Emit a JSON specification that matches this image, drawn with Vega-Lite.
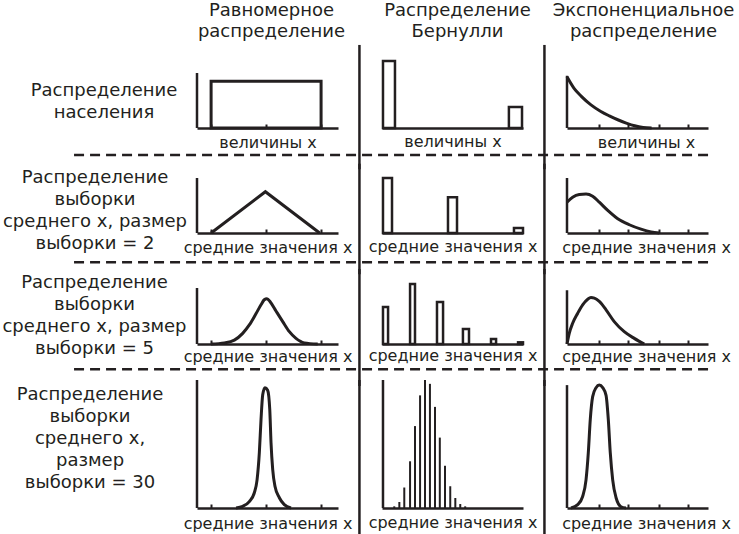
{
  "$schema": "https://vega.github.io/schema/vega-lite/v6.json",
  "background": "white",
  "padding": {"left": 1, "top": 1, "right": 0, "bottom": 0},
  "columns": 3,
  "align": "each",
  "spacing": {"row": 36, "column": 44},
  "bounds": "flush",
  "config": {
    "view": {"stroke": null},
    "font": "DejaVu Sans",
    "axis": {"grid": false, "labels": false, "domainColor": "#231f20", "domainWidth": 2.5, "tickColor": "#231f20", "tickWidth": 2, "titleFont": "DejaVu Sans", "titleFontSize": 16, "titleFontWeight": "normal", "titleColor": "#231f20", "titleBaseline": "alphabetic"},
    "title": {"font": "DejaVu Sans", "fontSize": 18, "fontWeight": "normal", "color": "#231f20", "lineHeight": 21, "offset": 31}
  },
  "datasets": {
    "uniform": [{"x0": 1.0, "x1": 8.8, "p": 0.85}],
    "triangle": [{"x": 1.0, "p": 0}, {"x": 4.85, "p": 0.75}, {"x": 8.7, "p": 0}],
    "bell5": [{"x": 0.99, "p": 0}, {"x": 1.94, "p": 0.02}, {"x": 2.65, "p": 0.07}, {"x": 3.24, "p": 0.19}, {"x": 3.71, "p": 0.34}, {"x": 4.18, "p": 0.54}, {"x": 4.54, "p": 0.7}, {"x": 4.77, "p": 0.79}, {"x": 4.96, "p": 0.81}, {"x": 5.2, "p": 0.75}, {"x": 5.6, "p": 0.59}, {"x": 6.08, "p": 0.4}, {"x": 6.55, "p": 0.22}, {"x": 7.02, "p": 0.1}, {"x": 7.61, "p": 0.02}, {"x": 8.56, "p": 0}],
    "bell30": [{"x": 2.77, "p": 0}, {"x": 3.24, "p": 0.013}, {"x": 3.71, "p": 0.05}, {"x": 4.06, "p": 0.117}, {"x": 4.26, "p": 0.22}, {"x": 4.42, "p": 0.43}, {"x": 4.54, "p": 0.69}, {"x": 4.66, "p": 0.885}, {"x": 4.82, "p": 0.94}, {"x": 5.01, "p": 0.92}, {"x": 5.16, "p": 0.77}, {"x": 5.25, "p": 0.51}, {"x": 5.37, "p": 0.3}, {"x": 5.53, "p": 0.17}, {"x": 5.84, "p": 0.08}, {"x": 6.19, "p": 0.026}, {"x": 6.67, "p": 0}],
    "bern1": [{"x0": 0.07, "x1": 0.92, "p": 1.22}, {"x0": 9.0, "x1": 9.93, "p": 0.38}],
    "bern2": [{"x0": 0.07, "x1": 0.71, "p": 1.0}, {"x0": 4.68, "x1": 5.32, "p": 0.65}, {"x0": 9.36, "x1": 10.0, "p": 0.09}],
    "bern5": [{"x0": 0.07, "x1": 0.43, "p": 0.66}, {"x0": 1.99, "x1": 2.34, "p": 1.07}, {"x0": 3.9, "x1": 4.33, "p": 0.75}, {"x0": 5.74, "x1": 6.17, "p": 0.27}, {"x0": 7.73, "x1": 8.09, "p": 0.09}, {"x0": 9.65, "x1": 10.0, "p": 0.03}],
    "bern30": [{"x": 0.87, "p": 0.013}, {"x": 1.23, "p": 0.047}, {"x": 1.58, "p": 0.16}, {"x": 1.99, "p": 0.365}, {"x": 2.34, "p": 0.64}, {"x": 2.7, "p": 0.88}, {"x": 3.05, "p": 1.0}, {"x": 3.4, "p": 0.97}, {"x": 3.76, "p": 0.79}, {"x": 4.1, "p": 0.55}, {"x": 4.47, "p": 0.33}, {"x": 4.84, "p": 0.17}, {"x": 5.2, "p": 0.078}, {"x": 5.55, "p": 0.031}, {"x": 5.9, "p": 0.013}],
    "exp1": [{"x": 0, "p": 0.93}, {"x": 0.5, "p": 0.72}, {"x": 1.0, "p": 0.58}, {"x": 1.7, "p": 0.42}, {"x": 2.4, "p": 0.3}, {"x": 3.0, "p": 0.22}, {"x": 3.6, "p": 0.15}, {"x": 4.2, "p": 0.09}, {"x": 4.8, "p": 0.04}, {"x": 5.4, "p": 0.01}, {"x": 6.0, "p": 0}],
    "exp2": [{"x": 0, "p": 0.56}, {"x": 0.4, "p": 0.65}, {"x": 0.87, "p": 0.7}, {"x": 1.35, "p": 0.71}, {"x": 1.82, "p": 0.67}, {"x": 2.29, "p": 0.56}, {"x": 2.89, "p": 0.41}, {"x": 3.6, "p": 0.26}, {"x": 4.42, "p": 0.15}, {"x": 5.25, "p": 0.07}, {"x": 5.96, "p": 0.02}, {"x": 6.55, "p": 0}],
    "exp5": [{"x": 0, "p": 0}, {"x": 0.16, "p": 0.19}, {"x": 0.4, "p": 0.37}, {"x": 0.76, "p": 0.55}, {"x": 1.11, "p": 0.7}, {"x": 1.47, "p": 0.8}, {"x": 1.7, "p": 0.83}, {"x": 1.94, "p": 0.82}, {"x": 2.29, "p": 0.76}, {"x": 2.77, "p": 0.61}, {"x": 3.35, "p": 0.4}, {"x": 4.06, "p": 0.22}, {"x": 4.77, "p": 0.1}, {"x": 5.48, "p": 0}],
    "exp30": [{"x": 0.28, "p": 0}, {"x": 0.76, "p": 0.026}, {"x": 1.11, "p": 0.09}, {"x": 1.35, "p": 0.22}, {"x": 1.51, "p": 0.43}, {"x": 1.65, "p": 0.69}, {"x": 1.82, "p": 0.87}, {"x": 2.06, "p": 0.94}, {"x": 2.29, "p": 0.96}, {"x": 2.53, "p": 0.94}, {"x": 2.77, "p": 0.88}, {"x": 2.93, "p": 0.69}, {"x": 3.07, "p": 0.43}, {"x": 3.24, "p": 0.22}, {"x": 3.48, "p": 0.08}, {"x": 3.83, "p": 0.01}, {"x": 4.18, "p": 0}]
  },
  "concat": [
    {
      "width": 141, "height": 55,
      "title": {"text": ["Равномерное", "распределение"], "dx": 4, "offset": 31},
      "layer": [
        {"data": {"name": "uniform"}, "mark": {"type": "rect", "fill": "transparent", "stroke": "#231f20", "strokeWidth": 3},
         "encoding": {
           "x": {"field": "x0", "type": "quantitative", "scale": {"domain": [0, 10], "nice": false, "zero": false}, "axis": {"values": [1, 2.9, 4.9, 6.9, 8.8], "tickSize": -4, "title": "величины x", "titlePadding": 18}},
           "x2": {"field": "x1"},
           "y": {"field": "p", "type": "quantitative", "scale": {"domain": [0, 1], "nice": false, "zero": false}, "axis": {"domain": false, "ticks": false, "title": ["Распределение", "населения"], "titleAngle": 0, "titleAlign": "center", "titleBaseline": "middle", "titleX": -93.5, "titleY": 17, "titleFontSize": 18, "titleLineHeight": 22}},
           "y2": {"datum": 0}}},
        {"data": {"values": [{}]}, "mark": {"type": "rule", "stroke": "#231f20", "strokeWidth": 2.5, "strokeDash": [10, 6]},
         "encoding": {"x": {"datum": -8.72, "scale": {"domain": [0, 10], "nice": false, "zero": false}}, "x2": {"datum": 36.3}, "y": {"datum": -0.49, "scale": {"domain": [0, 1], "nice": false, "zero": false}}}},
        {"data": {"values": [{}]}, "mark": {"type": "rule", "stroke": "#231f20", "strokeWidth": 2.5},
         "encoding": {"x": {"datum": 0, "scale": {"domain": [0, 10], "nice": false, "zero": false}}, "y": {"datum": 0, "scale": {"domain": [0, 1], "nice": false, "zero": false}}, "y2": {"datum": 1}}}
      ]
    },
    {
      "width": 141, "height": 55,
      "title": {"text": ["Распределение", "Бернулли"], "dx": 5, "offset": 3},
      "layer": [
        {"data": {"name": "bern1"}, "mark": {"type": "rect", "fill": "white", "stroke": "#231f20", "strokeWidth": 2.5},
         "encoding": {
           "x": {"field": "x0", "type": "quantitative", "scale": {"domain": [0, 10], "nice": false, "zero": false}, "axis": {"ticks": false, "title": "величины x", "titlePadding": 18}},
           "x2": {"field": "x1"},
           "y": {"field": "p", "type": "quantitative", "scale": {"domain": [0, 1], "nice": false, "zero": false}, "axis": null},
           "y2": {"datum": 0}}},
        {"data": {"values": [{}]}, "mark": {"type": "rule", "stroke": "#231f20", "strokeWidth": 2.5},
         "encoding": {"x": {"datum": -1.6, "scale": {"domain": [0, 10], "nice": false, "zero": false}}, "y": {"datum": 1.51, "scale": {"domain": [0, 1], "nice": false, "zero": false}}, "y2": {"datum": -0.75}}}
      ]
    },
    {
      "width": 141, "height": 55,
      "title": {"text": ["Экспоненциальное", "распределение"], "dx": 6, "offset": 3},
      "layer": [
        {"data": {"name": "exp1"}, "mark": {"type": "line", "interpolate": "monotone", "stroke": "#231f20", "strokeWidth": 3},
         "encoding": {
           "x": {"field": "x", "type": "quantitative", "scale": {"domain": [0, 10], "nice": false, "zero": false}, "axis": {"values": [2.3, 4.3, 6.5, 8.6], "tickSize": -4, "title": "величины x", "titlePadding": 18, "titleX": 79}},
           "y": {"field": "p", "type": "quantitative", "scale": {"domain": [0, 1], "nice": false, "zero": false}, "axis": null}}},
        {"data": {"values": [{}]}, "mark": {"type": "rule", "stroke": "#231f20", "strokeWidth": 2.5},
         "encoding": {"x": {"datum": -1.6, "scale": {"domain": [0, 10], "nice": false, "zero": false}}, "y": {"datum": 1.51, "scale": {"domain": [0, 1], "nice": false, "zero": false}}, "y2": {"datum": -0.75}}},
        {"data": {"values": [{}]}, "mark": {"type": "rule", "stroke": "#231f20", "strokeWidth": 2.5},
         "encoding": {"x": {"datum": 0, "scale": {"domain": [0, 10], "nice": false, "zero": false}}, "y": {"datum": 0, "scale": {"domain": [0, 1], "nice": false, "zero": false}}, "y2": {"datum": 0.95}}}
      ]
    },
    {
      "width": 141, "height": 69,
      "layer": [
        {"data": {"name": "triangle"}, "mark": {"type": "line", "stroke": "#231f20", "strokeWidth": 3},
         "encoding": {
           "x": {"field": "x", "type": "quantitative", "scale": {"domain": [0, 10], "nice": false, "zero": false}, "axis": {"values": [1, 2.9, 4.9, 6.9, 8.8], "tickSize": -4, "title": "средние значения x", "titlePadding": 18}},
           "y": {"field": "p", "type": "quantitative", "scale": {"domain": [0, 1.2545], "nice": false, "zero": false}, "axis": {"domain": false, "ticks": false, "title": ["Распределение", "выборки", "среднего x, размер", "выборки = 2"], "titleAngle": 0, "titleAlign": "center", "titleBaseline": "middle", "titleX": -102.5, "titleY": 13, "titleFontSize": 18, "titleLineHeight": 22}}}},
        {"data": {"values": [{}]}, "mark": {"type": "rule", "stroke": "#231f20", "strokeWidth": 2.5, "strokeDash": [10, 6]},
         "encoding": {"x": {"datum": -8.72, "scale": {"domain": [0, 10], "nice": false, "zero": false}}, "x2": {"datum": 36.3}, "y": {"datum": -0.53, "scale": {"domain": [0, 1.2545], "nice": false, "zero": false}}}},
        {"data": {"values": [{}]}, "mark": {"type": "rule", "stroke": "#231f20", "strokeWidth": 2.5},
         "encoding": {"x": {"datum": 0, "scale": {"domain": [0, 10], "nice": false, "zero": false}}, "y": {"datum": 0, "scale": {"domain": [0, 1.2545], "nice": false, "zero": false}}, "y2": {"datum": 1}}}
      ]
    },
    {
      "width": 141, "height": 69,
      "layer": [
        {"data": {"name": "bern2"}, "mark": {"type": "rect", "fill": "white", "stroke": "#231f20", "strokeWidth": 2.5},
         "encoding": {
           "x": {"field": "x0", "type": "quantitative", "scale": {"domain": [0, 10], "nice": false, "zero": false}, "axis": {"ticks": false, "title": "средние значения x", "titlePadding": 18}},
           "x2": {"field": "x1"},
           "y": {"field": "p", "type": "quantitative", "scale": {"domain": [0, 1.2545], "nice": false, "zero": false}, "axis": null},
           "y2": {"datum": 0}}},
        {"data": {"values": [{}]}, "mark": {"type": "rule", "stroke": "#231f20", "strokeWidth": 2.5},
         "encoding": {"x": {"datum": -1.6, "scale": {"domain": [0, 10], "nice": false, "zero": false}}, "y": {"datum": 1.26, "scale": {"domain": [0, 1.2545], "nice": false, "zero": false}}, "y2": {"datum": -0.75}}}
      ]
    },
    {
      "width": 141, "height": 69,
      "layer": [
        {"data": {"name": "exp2"}, "mark": {"type": "line", "interpolate": "monotone", "stroke": "#231f20", "strokeWidth": 3},
         "encoding": {
           "x": {"field": "x", "type": "quantitative", "scale": {"domain": [0, 10], "nice": false, "zero": false}, "axis": {"values": [2.3, 4.3, 6.5, 8.6], "tickSize": -4, "title": "средние значения x", "titlePadding": 18, "titleX": 79}},
           "y": {"field": "p", "type": "quantitative", "scale": {"domain": [0, 1.2545], "nice": false, "zero": false}, "axis": null}}},
        {"data": {"values": [{}]}, "mark": {"type": "rule", "stroke": "#231f20", "strokeWidth": 2.5},
         "encoding": {"x": {"datum": -1.6, "scale": {"domain": [0, 10], "nice": false, "zero": false}}, "y": {"datum": 1.26, "scale": {"domain": [0, 1.2545], "nice": false, "zero": false}}, "y2": {"datum": -0.75}}},
        {"data": {"values": [{}]}, "mark": {"type": "rule", "stroke": "#231f20", "strokeWidth": 2.5},
         "encoding": {"x": {"datum": 0, "scale": {"domain": [0, 10], "nice": false, "zero": false}}, "y": {"datum": 0, "scale": {"domain": [0, 1.2545], "nice": false, "zero": false}}, "y2": {"datum": 1}}}
      ]
    },
    {
      "width": 141, "height": 75,
      "layer": [
        {"data": {"name": "bell5"}, "mark": {"type": "line", "interpolate": "monotone", "stroke": "#231f20", "strokeWidth": 3},
         "encoding": {
           "x": {"field": "x", "type": "quantitative", "scale": {"domain": [0, 10], "nice": false, "zero": false}, "axis": {"values": [1, 2.9, 4.9, 6.9, 8.8], "tickSize": -4, "title": "средние значения x", "titlePadding": 16}},
           "y": {"field": "p", "type": "quantitative", "scale": {"domain": [0, 1.3393], "nice": false, "zero": false}, "axis": {"domain": false, "ticks": false, "title": ["Распределение", "выборки", "среднего x, размер", "выборки = 5"], "titleAngle": 0, "titleAlign": "center", "titleBaseline": "middle", "titleX": -103, "titleY": 13, "titleFontSize": 18, "titleLineHeight": 22}}}},
        {"data": {"values": [{}]}, "mark": {"type": "rule", "stroke": "#231f20", "strokeWidth": 2.5, "strokeDash": [10, 6]},
         "encoding": {"x": {"datum": -8.72, "scale": {"domain": [0, 10], "nice": false, "zero": false}}, "x2": {"datum": 36.3}, "y": {"datum": -0.45, "scale": {"domain": [0, 1.3393], "nice": false, "zero": false}}}},
        {"data": {"values": [{}]}, "mark": {"type": "rule", "stroke": "#231f20", "strokeWidth": 2.5},
         "encoding": {"x": {"datum": 0, "scale": {"domain": [0, 10], "nice": false, "zero": false}}, "y": {"datum": 0, "scale": {"domain": [0, 1.3393], "nice": false, "zero": false}}, "y2": {"datum": 1}}}
      ]
    },
    {
      "width": 141, "height": 75,
      "layer": [
        {"data": {"name": "bern5"}, "mark": {"type": "rect", "fill": "white", "stroke": "#231f20", "strokeWidth": 2.5},
         "encoding": {
           "x": {"field": "x0", "type": "quantitative", "scale": {"domain": [0, 10], "nice": false, "zero": false}, "axis": {"ticks": false, "title": "средние значения x", "titlePadding": 16}},
           "x2": {"field": "x1"},
           "y": {"field": "p", "type": "quantitative", "scale": {"domain": [0, 1.3393], "nice": false, "zero": false}, "axis": null},
           "y2": {"datum": 0}}},
        {"data": {"values": [{}]}, "mark": {"type": "rule", "stroke": "#231f20", "strokeWidth": 2.5},
         "encoding": {"x": {"datum": -1.6, "scale": {"domain": [0, 10], "nice": false, "zero": false}}, "y": {"datum": 1.34, "scale": {"domain": [0, 1.3393], "nice": false, "zero": false}}, "y2": {"datum": -0.75}}}
      ]
    },
    {
      "width": 141, "height": 75,
      "layer": [
        {"data": {"name": "exp5"}, "mark": {"type": "line", "interpolate": "monotone", "stroke": "#231f20", "strokeWidth": 3},
         "encoding": {
           "x": {"field": "x", "type": "quantitative", "scale": {"domain": [0, 10], "nice": false, "zero": false}, "axis": {"values": [2.3, 4.3, 6.5, 8.6], "tickSize": -4, "title": "средние значения x", "titlePadding": 16, "titleX": 79}},
           "y": {"field": "p", "type": "quantitative", "scale": {"domain": [0, 1.3393], "nice": false, "zero": false}, "axis": null}}},
        {"data": {"values": [{}]}, "mark": {"type": "rule", "stroke": "#231f20", "strokeWidth": 2.5},
         "encoding": {"x": {"datum": -1.6, "scale": {"domain": [0, 10], "nice": false, "zero": false}}, "y": {"datum": 1.34, "scale": {"domain": [0, 1.3393], "nice": false, "zero": false}}, "y2": {"datum": -0.75}}},
        {"data": {"values": [{}]}, "mark": {"type": "rule", "stroke": "#231f20", "strokeWidth": 2.5},
         "encoding": {"x": {"datum": 0, "scale": {"domain": [0, 10], "nice": false, "zero": false}}, "y": {"datum": 0, "scale": {"domain": [0, 1.3393], "nice": false, "zero": false}}, "y2": {"datum": 0.96}}}
      ]
    },
    {
      "width": 141, "height": 128,
      "layer": [
        {"data": {"name": "bell30"}, "mark": {"type": "line", "interpolate": "monotone", "stroke": "#231f20", "strokeWidth": 3},
         "encoding": {
           "x": {"field": "x", "type": "quantitative", "scale": {"domain": [0, 10], "nice": false, "zero": false}, "axis": {"values": [1, 2.9, 4.9, 6.9, 8.8], "tickSize": -4, "title": "средние значения x", "titlePadding": 19}},
           "y": {"field": "p", "type": "quantitative", "scale": {"domain": [0, 1], "nice": false, "zero": false}, "axis": {"domain": false, "ticks": false, "title": ["Распределение", "выборки", "среднего x,", "размер", "выборки = 30"], "titleAngle": 0, "titleAlign": "center", "titleBaseline": "middle", "titleX": -107.5, "titleY": 14, "titleFontSize": 18, "titleLineHeight": 22}}}},
        {"data": {"values": [{}]}, "mark": {"type": "rule", "stroke": "#231f20", "strokeWidth": 2.5},
         "encoding": {"x": {"datum": 0, "scale": {"domain": [0, 10], "nice": false, "zero": false}}, "y": {"datum": 0, "scale": {"domain": [0, 1], "nice": false, "zero": false}}, "y2": {"datum": 1}}}
      ]
    },
    {
      "width": 141, "height": 128,
      "layer": [
        {"data": {"name": "bern30"}, "mark": {"type": "rule", "stroke": "#231f20", "strokeWidth": 2},
         "encoding": {
           "x": {"field": "x", "type": "quantitative", "scale": {"domain": [0, 10], "nice": false, "zero": false}, "axis": {"ticks": false, "title": "средние значения x", "titlePadding": 19}},
           "y": {"field": "p", "type": "quantitative", "scale": {"domain": [0, 1], "nice": false, "zero": false}, "axis": null},
           "y2": {"datum": 0}}},
        {"data": {"values": [{}]}, "mark": {"type": "rule", "stroke": "#231f20", "strokeWidth": 2.5},
         "encoding": {"x": {"datum": -1.6, "scale": {"domain": [0, 10], "nice": false, "zero": false}}, "y": {"datum": 1.0, "scale": {"domain": [0, 1], "nice": false, "zero": false}}, "y2": {"datum": -0.3}}},
        {"data": {"values": [{}]}, "mark": {"type": "rule", "stroke": "#231f20", "strokeWidth": 2.5},
         "encoding": {"x": {"datum": 0.07, "scale": {"domain": [0, 10], "nice": false, "zero": false}}, "y": {"datum": 0, "scale": {"domain": [0, 1], "nice": false, "zero": false}}, "y2": {"datum": 1}}}
      ]
    },
    {
      "width": 141, "height": 128,
      "layer": [
        {"data": {"name": "exp30"}, "mark": {"type": "line", "interpolate": "monotone", "stroke": "#231f20", "strokeWidth": 3},
         "encoding": {
           "x": {"field": "x", "type": "quantitative", "scale": {"domain": [0, 10], "nice": false, "zero": false}, "axis": {"values": [2.3, 4.3, 6.5, 8.6], "tickSize": -4, "title": "средние значения x", "titlePadding": 19, "titleX": 79}},
           "y": {"field": "p", "type": "quantitative", "scale": {"domain": [0, 1], "nice": false, "zero": false}, "axis": null}}},
        {"data": {"values": [{}]}, "mark": {"type": "rule", "stroke": "#231f20", "strokeWidth": 2.5},
         "encoding": {"x": {"datum": -1.6, "scale": {"domain": [0, 10], "nice": false, "zero": false}}, "y": {"datum": 1.0, "scale": {"domain": [0, 1], "nice": false, "zero": false}}, "y2": {"datum": -0.3}}},
        {"data": {"values": [{}]}, "mark": {"type": "rule", "stroke": "#231f20", "strokeWidth": 2.5},
         "encoding": {"x": {"datum": 0, "scale": {"domain": [0, 10], "nice": false, "zero": false}}, "y": {"datum": 0, "scale": {"domain": [0, 1], "nice": false, "zero": false}}, "y2": {"datum": 0.96}}}
      ]
    }
  ]
}
